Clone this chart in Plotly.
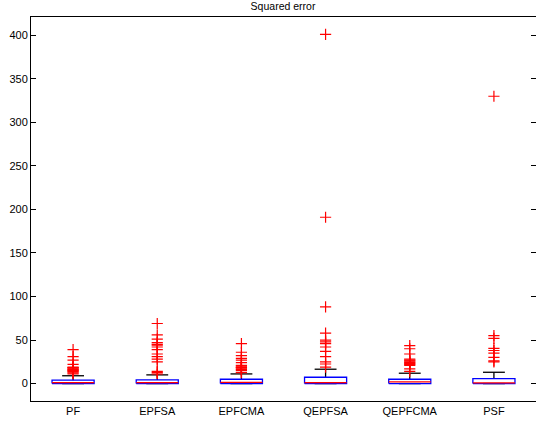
import plotly.graph_objects as go

categories = ["PF", "EPFSA", "EPFCMA", "QEPFSA", "QEPFCMA", "PSF"]
q1 = [0.0, 0.0, 0.0, 0.0, 0.0, 0.0]
medians = [1.0, 1.0, 1.5, 1.0, 2.0, 0.8]
q3 = [3.9, 4.2, 5.0, 7.3, 5.0, 5.7]
upper_whisker = [9.0, 10.0, 11.1, 16.5, 11.9, 13.0]
lower_whisker = [0.0, 0.0, 0.0, 0.0, 0.0, 0.0]
outliers = {
    "PF": [39, 31, 27, 22, 19, 18.5, 18, 17, 16.5, 16, 15, 14.5, 14, 13, 12, 11],
    "EPFSA": [69, 56, 51, 47, 45, 44, 42, 39, 34, 31, 28, 25, 14, 12.5, 11],
    "EPFCMA": [46, 36, 32, 29, 27, 24, 21, 20, 19, 18.5, 18, 17, 16, 15, 13, 12.5],
    "QEPFSA": [401, 191, 88, 58, 50, 48, 46, 42, 37, 31, 25, 22.5, 19],
    "QEPFCMA": [43.5, 40, 34, 28, 27, 26, 25, 24, 23, 22, 21, 17, 14],
    "PSF": [330, 55, 52, 40.5, 38, 35, 30, 26, 25],
}
y_ticks = [0, 50, 100, 150, 200, 250, 300, 350, 400]

BOX_HALF = 0.25
CAP_HALF = 0.13
positions = list(range(1, len(categories) + 1))

box_x, box_y, med_x, med_y, wh_x, wh_y = [], [], [], [], [], []
for p, a, m, b, hi, lo in zip(positions, q1, medians, q3, upper_whisker, lower_whisker):
    box_x += [p - BOX_HALF, p + BOX_HALF, p + BOX_HALF, p - BOX_HALF, p - BOX_HALF, None]
    box_y += [a, a, b, b, a, None]
    med_x += [p - BOX_HALF, p + BOX_HALF, None]
    med_y += [m, m, None]
    wh_x += [p, p, None, p - CAP_HALF, p + CAP_HALF, None,
             p, p, None, p - CAP_HALF, p + CAP_HALF, None]
    wh_y += [b, hi, None, hi, hi, None, a, lo, None, lo, lo, None]

out_x, out_y = [], []
for p, c in zip(positions, categories):
    for v in outliers[c]:
        out_x.append(p)
        out_y.append(v)

fig = go.Figure()
fig.add_trace(go.Scatter(x=wh_x, y=wh_y, mode="lines",
                         line=dict(color="black", width=1.3), hoverinfo="skip"))
fig.add_trace(go.Scatter(x=out_x, y=out_y, mode="markers",
                         marker=dict(symbol="cross-thin", size=8,
                                     line=dict(color="red", width=1.2), color="red")))
fig.add_trace(go.Scatter(x=box_x, y=box_y, mode="lines",
                         line=dict(color="blue", width=1.3), hoverinfo="skip"))
fig.add_trace(go.Scatter(x=med_x, y=med_y, mode="lines",
                         line=dict(color="red", width=1.3), hoverinfo="skip"))
# right-side tick marks (no axis line)
fig.add_trace(go.Scatter(x=[None], y=[None], yaxis="y2", showlegend=False))

yr = [-20, 421]
fig.update_layout(
    width=536, height=423,
    margin=dict(l=31, r=0, t=17, b=22),
    paper_bgcolor="white", plot_bgcolor="white",
    showlegend=False,
    font=dict(family="Liberation Sans, Arial, sans-serif", size=11, color="black"),
    title=dict(text="Squared error", x=0.528, xanchor="center",
               y=1 - 6 / 423, yanchor="middle", yref="container",
               font=dict(size=10.5)),
    xaxis=dict(range=[0.5, 6.5], tickmode="array", tickvals=positions,
               ticktext=categories, ticks="", showline=True, linecolor="black",
               linewidth=1, mirror=True, showgrid=False, zeroline=False,
               tickfont=dict(size=11)),
    yaxis=dict(range=yr, tickmode="array", tickvals=y_ticks,
               ticks="inside", ticklen=5, tickcolor="black", showline=True,
               linecolor="black", linewidth=1, showgrid=False, zeroline=False,
               tickfont=dict(size=11)),
    yaxis2=dict(range=yr, overlaying="y", side="right", tickmode="array",
                tickvals=y_ticks, ticks="inside", ticklen=5, tickcolor="black",
                showticklabels=False, showline=False, showgrid=False,
                zeroline=False),
)

fig.write_html("out.html", config={"displayModeBar": False},
               post_script="document.body.style.margin='0';")
